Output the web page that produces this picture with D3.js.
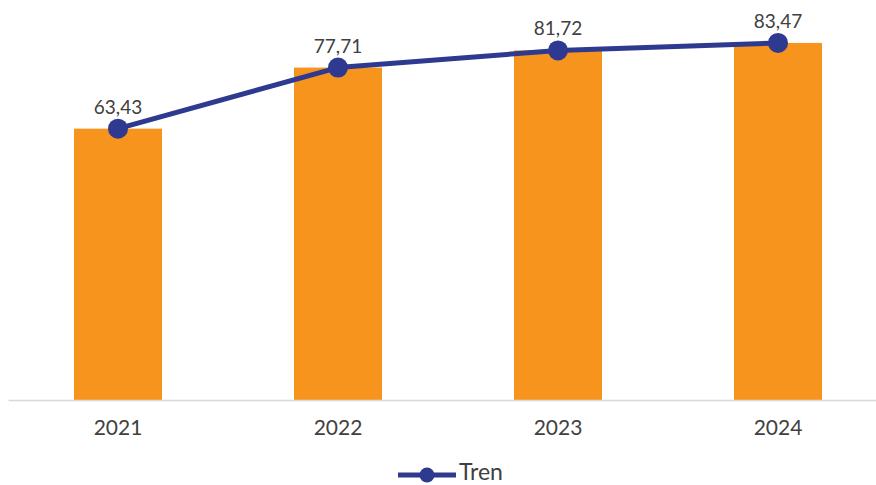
<!DOCTYPE html>
<html>
<head>
<meta charset="utf-8">
<script src="https://cdn.jsdelivr.net/npm/d3@7"></script>
<style>
  body { margin: 0; background: #fff; }
  text { font-family: Lato, "Open Sans", sans-serif; fill: #404040; }
</style>
</head>
<body>
<svg></svg>
<script>
const years = ['2021', '2022', '2023', '2024'];
const barValues = [63.43, 77.71, 81.72, 83.47];
const trenValues = [63.43, 77.71, 81.72, 83.47];
const legendLabel = 'Tren';

const width = 876;
const height = 485;
const barColor = '#f7941d';
const lineColor = '#2e3a8f';

const svg = d3.select('svg')
  .attr('width', width)
  .attr('height', height);

const xScale = d3.scaleBand()
  .domain(years)
  .range([8, 888])
  .paddingInner(0.6)
  .paddingOuter(0.3);

const yScale = d3.scaleLinear()
  .domain([0, 90])
  .range([400, 15]);

const fmt = v => d3.format('.2f')(v).replace('.', ',');

// bars
svg.append('g')
  .selectAll('rect')
  .data(years)
  .enter()
  .append('rect')
  .attr('x', d => xScale(d))
  .attr('y', (d, i) => yScale(barValues[i]))
  .attr('width', xScale.bandwidth())
  .attr('height', (d, i) => yScale(0) - yScale(barValues[i]))
  .attr('fill', barColor);

// x axis
const xAxis = svg.append('g')
  .attr('transform', `translate(0, ${yScale(0)})`)
  .call(d3.axisBottom(xScale).tickSize(0).tickPadding(20));
xAxis.select('.domain').attr('stroke', '#d9d9d9').attr('stroke-width', 1.5);
xAxis.selectAll('text')
  .style('font-family', 'Lato, sans-serif')
  .style('font-size', '21px')
  .attr('fill', '#595959');

// trend line
const cx = d => xScale(d) + xScale.bandwidth() / 2;
const line = d3.line()
  .x(d => cx(d))
  .y((d, i) => yScale(trenValues[i]));

svg.append('path')
  .datum(years)
  .attr('d', line)
  .attr('fill', 'none')
  .attr('stroke', lineColor)
  .attr('stroke-width', 5)
  .attr('stroke-linejoin', 'round');

svg.append('g')
  .selectAll('circle')
  .data(years)
  .enter()
  .append('circle')
  .attr('cx', d => cx(d))
  .attr('cy', (d, i) => yScale(trenValues[i]))
  .attr('r', 10)
  .attr('fill', lineColor);

// value labels
svg.append('g')
  .selectAll('text')
  .data(years)
  .enter()
  .append('text')
  .attr('x', d => cx(d))
  .attr('y', (d, i) => yScale(trenValues[i]) - 15)
  .attr('text-anchor', 'middle')
  .style('font-size', '19px')
  .text((d, i) => fmt(trenValues[i]));

// legend
const legend = svg.append('g').attr('transform', 'translate(398, 475)');
legend.append('line')
  .attr('x1', 0).attr('x2', 58)
  .attr('y1', 0).attr('y2', 0)
  .attr('stroke', lineColor)
  .attr('stroke-width', 5);
legend.append('circle')
  .attr('cx', 29).attr('cy', 0).attr('r', 7.5)
  .attr('fill', lineColor);
legend.append('text')
  .attr('x', 61).attr('y', 5)
  .style('font-size', '23px')
  .attr('fill', '#595959')
  .text(legendLabel);
</script>
</body>
</html>
